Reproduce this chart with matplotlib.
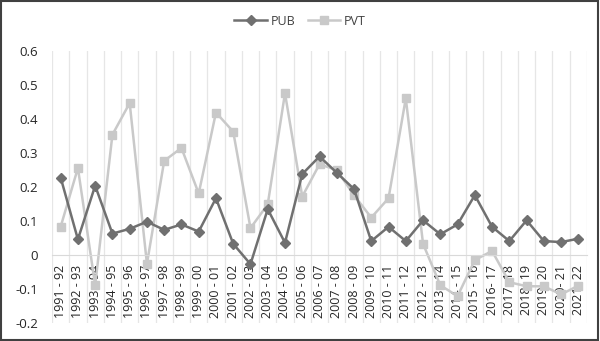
import numpy as np
import matplotlib
matplotlib.use("Agg")
import matplotlib.pyplot as plt
from matplotlib.patches import Rectangle

plt.rcParams['font.family'] = ['Open Sans', 'DejaVu Sans']

years = ["1991 - 92", "1992 - 93", "1993 - 94", "1994 - 95", "1995 - 96",
         "1996 - 97", "1997 - 98", "1998 - 99", "1999 - 00", "2000 - 01",
         "2001 - 02", "2002 - 03", "2003 - 04", "2004 - 05", "2005 - 06",
         "2006 - 07", "2007 - 08", "2008 - 09", "2009 - 10", "2010 - 11",
         "2011 - 12", "2012 - 13", "2013 - 14", "2014 - 15", "2015 - 16",
         "2016- 17", "2017- 18", "2018- 19", "2019- 20", "2020- 21", "2021- 22"]

pub = [0.228, 0.046, 0.204, 0.063, 0.077, 0.098, 0.074, 0.090, 0.069, 0.167,
       0.033, -0.027, 0.135, 0.036, 0.238, 0.290, 0.242, 0.194, 0.041, 0.083,
       0.041, 0.102, 0.061, 0.090, 0.176, 0.083, 0.041, 0.102, 0.041, 0.038,
       0.048]

pvt = [0.083, 0.256, -0.089, 0.354, 0.447, -0.026, 0.277, 0.315, 0.181, 0.419,
       0.363, 0.079, 0.149, 0.476, 0.172, 0.267, 0.250, 0.176, 0.110, 0.167,
       0.461, 0.033, -0.089, -0.121, -0.015, 0.012, -0.080, -0.092, -0.092,
       -0.116, -0.090]

x = np.arange(len(years))

fig = plt.figure(figsize=(6.0, 3.41), dpi=100)
ax = fig.add_axes([0.0867, 0.0528, 0.8916, 0.7975])

ax.plot(x, pub, color='#707070', lw=1.8, marker='D', ms=5,
        label='PUB', zorder=3)
ax.plot(x, pvt, color='#c9c9c9', lw=1.8, marker='s', ms=6,
        label='PVT', zorder=2)

ax.set_xlim(-0.5, len(years) - 0.5)
ax.set_ylim(-0.2, 0.6)
ax.set_yticks([-0.2, -0.1, 0, 0.1, 0.2, 0.3, 0.4, 0.5, 0.6])
ax.set_yticklabels(['-0.2', '-0.1', '0', '0.1', '0.2', '0.3', '0.4', '0.5', '0.6'])

# category axis sits on zero, labels hang below it
ax.spines['bottom'].set_position(('data', 0))
ax.spines['bottom'].set_color('#d9d9d9')
for side in ['top', 'right', 'left']:
    ax.spines[side].set_visible(False)
ax.set_xticks(x)
ax.set_xticklabels(years, rotation=90, va='top', ha='center')
ax.set_xticks(np.arange(-0.5, len(years), 1), minor=True)
ax.tick_params(axis='x', which='both', length=0, pad=7, labelsize=9,
               labelcolor='#262626')
ax.tick_params(axis='y', length=0, pad=10, labelsize=9.5, labelcolor='#262626')
ax.grid(which='minor', axis='x', color='#e6e6e6', lw=0.9)
ax.set_axisbelow(True)

fig.legend(loc='upper center', bbox_to_anchor=(0.5, 0.99), ncol=2,
           frameon=False, fontsize=9, handlelength=2.6, columnspacing=1.0,
           handletextpad=0.3, labelcolor='#404040')

fig.patches.append(Rectangle((0.002, 0.003), 0.995, 0.994, transform=fig.transFigure,
                             fill=False, edgecolor='#404040', lw=1.5))

fig.savefig('out.png', dpi=100)
